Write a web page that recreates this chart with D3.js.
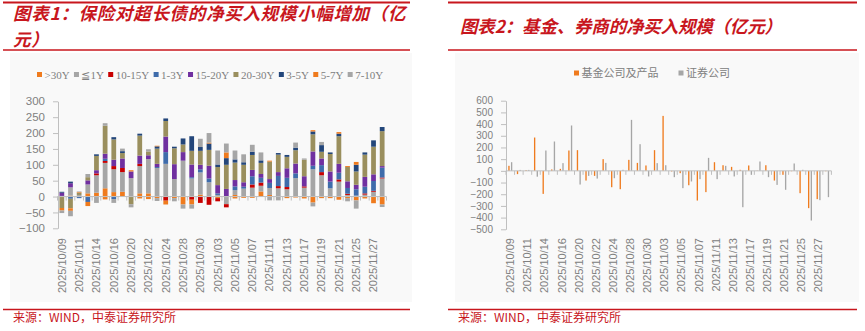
<!DOCTYPE html>
<html>
<head>
<meta charset="utf-8">
<script src="https://cdn.jsdelivr.net/npm/d3@7"></script>
<style>
  body { margin: 0; background: #fff; }
  svg { display: block; }
</style>
</head>
<body>
<svg id="c" width="865" height="331"></svg>
<script>
// ---- data ----
const dates = [
  "2025/10/09","2025/10/10","2025/10/11","2025/10/13","2025/10/14","2025/10/15","2025/10/16","2025/10/17",
  "2025/10/20","2025/10/21","2025/10/22","2025/10/23","2025/10/24","2025/10/27","2025/10/28","2025/10/29",
  "2025/10/30","2025/10/31","2025/11/03","2025/11/04","2025/11/05","2025/11/06","2025/11/07","2025/11/10",
  "2025/11/11","2025/11/12","2025/11/13","2025/11/14","2025/11/17","2025/11/18","2025/11/19","2025/11/20",
  "2025/11/21","2025/11/24","2025/11/25","2025/11/26","2025/11/27","2025/11/28"
];

// Insurance net purchases by maturity bucket (亿元)
const termKeys = [">30Y", "≦1Y", "10-15Y", "1-3Y", "15-20Y", "20-30Y", "3-5Y", "5-7Y", "7-10Y"];
const over30Y = [0,3,0,10,12,26,14,15,0,10,10,-5,0,-5,-25,0,6,0,-5,0,5,0,-4,16,5,0,-5,-3,-6,-19,-5,-5,-10,-5,-12,-6,-21,-25];
const upTo1Y  = [2,26,5,28,55,80,72,62,58,86,108,90,103,55,113,57,70,45,5,-24,15,25,28,18,22,26,23,58,28,86,67,26,47,5,3,6,15,57];
const y10to15 = [0,0,0,0,6,6,10,13,0,7,0,0,-13,0,0,-10,-20,-26,-10,-10,0,0,10,10,0,7,7,0,4,0,10,0,7,4,0,4,3,3];
const y1to3   = [0,-7,-5,-17,0,7,-8,0,0,0,0,3,37,0,0,4,10,12,5,0,12,6,26,15,16,32,29,15,0,11,22,21,21,18,20,21,31,31];
const y15to20 = [10,13,0,13,10,16,20,30,21,26,12,10,49,47,27,40,14,40,26,24,20,14,20,12,12,12,30,31,32,45,21,32,28,21,14,31,21,5];
const y20to30 = [-36,-30,7,10,45,88,64,17,-24,63,12,48,49,50,24,43,44,50,57,76,55,55,47,35,55,55,36,42,52,54,21,55,87,45,42,70,87,110];
const y3to5   = [3,5,0,0,5,0,7,6,0,6,0,7,8,5,19,46,12,20,8,21,10,8,10,8,0,5,6,8,0,9,21,5,8,0,21,7,20,13];
const y5to7   = [-8,-8,2,-13,0,-9,0,0,4,-6,-8,2,-12,0,0,-15,0,3,0,18,-6,-4,0,0,3,0,0,0,0,4,0,0,5,3,9,0,0,0];
const y7to10  = [-8,-17,2,10,-20,8,-12,8,-10,0,7,-9,0,-10,-13,-13,26,30,44,28,28,25,22,25,-12,-12,0,16,4,-12,10,0,0,-10,-26,0,0,-8];
const termSeries = [over30Y, upTo1Y, y10to15, y1to3, y15to20, y20to30, y3to5, y5to7, y7to10];
const termColors = ["#EF7B1E","#A6A6A6","#C80000","#3F6CAB","#7030A0","#9A8F5E","#23467A","#EF7B1E","#A6A6A6"];
const termTicks = [-100, -50, 0, 50, 100, 150, 200, 250, 300];

// Fund companies & products vs. securities firms (亿元)
const flowKeys = ["基金公司及产品", "证券公司"];
const fundFlow   = [43,-28,6,285,-197,12,17,174,177,-83,-43,100,-140,-157,94,68,46,177,470,-5,-20,-123,-254,-182,74,48,34,9,46,2,48,-83,-34,-3,-191,-319,-242,-3];
const brokerFlow = [74,8,8,-50,174,251,66,388,-117,-43,-66,68,-63,9,436,228,-48,66,48,-54,-148,-91,-71,111,-71,43,-48,-311,-34,80,-54,-120,-162,63,9,-425,-251,-225];
const flowColors = ["#EF7B1E", "#A6A6A6"];
const flowTicks = [-500,-400,-300,-200,-100,0,100,200,300,400,500,600];

// ---- shared styles ----
const RED = "#C8161D";
const AXIS = "#BFBFBF";
const TXT = "#808080";
const CJK = "'Noto Sans CJK SC', sans-serif";
const SANS = "'Liberation Sans', Arial, sans-serif";
const SERIF = "'Liberation Serif', 'Times New Roman', serif";

const svg = d3.select("#c");

// ---- frame: rules, titles, sources ----
function frame(x0, x1, title, srcX) {
  svg.append("rect").attr("x", x0 + 7).attr("y", 53).attr("width", x1 - x0 - 5).attr("height", 249).attr("fill", "#F9F9F9");
  svg.append("line").attr("x1", x0).attr("x2", x1).attr("y1", 2.5).attr("y2", 2.5).attr("stroke", RED).attr("stroke-width", 2);
  svg.append("line").attr("x1", x0).attr("x2", x1).attr("y1", 50).attr("y2", 50).attr("stroke", RED).attr("stroke-width", 1.5);
  svg.append("line").attr("x1", x0).attr("x2", x1).attr("y1", 309.5).attr("y2", 309.5).attr("stroke", RED).attr("stroke-width", 1.5);

  // title lines
  const gap = title.lineGap || 0;
  title.lines.forEach((line, i) => {
    const t = svg.append("text").attr("x", title.x).attr("y", title.y + i * gap)
      .attr("font-family", CJK).attr("font-size", 17.5).attr("font-weight", 700)
      .attr("font-style", "italic").attr("fill", RED)
      .attr("letter-spacing", title.spacing || 0).text(line);
    if (title.len) t.attr("textLength", title.len).attr("lengthAdjust", "spacing");
  });

  svg.append("text").attr("x", srcX).attr("y", 322)
    .attr("font-family", CJK).attr("font-size", 12).attr("fill", RED)
    .text("来源：WIND，中泰证券研究所");
}

frame(3, 410, {
  lines: ["图表1：保险对超长债的净买入规模小幅增加（亿", "元）"],
  x: 13, y: 20, lineGap: 25.5, spacing: 0.7
}, 13);
frame(448, 857, {
  lines: ["图表2：基金、券商的净买入规模（亿元）"],
  x: 460, y: 33, len: 322
}, 458);

// ---- helpers ----
function categoryAxis(g, x, yZero, labelY) {
  const [r0, r1] = x.range();
  g.append("line").attr("x1", r0).attr("x2", r1).attr("y1", yZero).attr("y2", yZero)
    .attr("stroke", AXIS).attr("stroke-width", 1);
  const half = x.step() * x.paddingInner() / 2;
  const bounds = dates.map(d => x(d) - half).concat([r1]);
  g.selectAll(".ctick").data(bounds).join("line")
    .attr("x1", d => d).attr("x2", d => d).attr("y1", yZero).attr("y2", yZero + 4)
    .attr("stroke", AXIS);
  g.selectAll(".clab").data(dates.filter((d, i) => i % 2 === 0)).join("text")
    .attr("transform", d => `translate(${x(d) + x.bandwidth() / 2},${labelY}) rotate(-90)`)
    .attr("text-anchor", "end").attr("dy", "0.35em")
    .attr("font-family", SANS).attr("font-size", 11).attr("fill", TXT)
    .text(d => d);
}

function valueAxis(g, y, xPos, ticks, size) {
  const ax = g.append("g").attr("transform", `translate(${xPos},0)`)
    .call(d3.axisLeft(y).tickValues(ticks).tickSize(5).tickSizeOuter(0).tickPadding(8));
  ax.select(".domain").attr("stroke", AXIS);
  ax.selectAll(".tick line").attr("stroke", AXIS);
  ax.selectAll(".tick text").attr("font-family", SANS).attr("font-size", size).attr("fill", TXT);
}

function legend(items, x0, yMid, font, size, gap) {
  let cx = x0;
  items.forEach(it => {
    svg.append("rect").attr("x", cx).attr("y", yMid - 2.5).attr("width", 5).attr("height", 5).attr("fill", it.color);
    const t = svg.append("text").attr("x", cx + 7.5).attr("y", yMid + 4)
      .attr("font-family", font).attr("font-size", size).attr("fill", TXT).text(it.name);
    cx += 7.5 + t.node().getComputedTextLength() + gap;
  });
}

// ---- chart 1: stacked columns by maturity ----
{
  const rows = dates.map((d, i) => {
    const r = { date: d };
    termKeys.forEach((k, j) => r[k] = termSeries[j][i]);
    return r;
  });
  const x = d3.scaleBand().domain(dates).range([57.5, 386.5]).paddingInner(0.45).paddingOuter(0.225);
  const y = d3.scaleLinear().domain([-100, 300]).range([228.3, 101.3]);
  const stacked = d3.stack().keys(termKeys).offset(d3.stackOffsetDiverging)(rows);

  const g = svg.append("g");
  g.selectAll(".layer").data(stacked).join("g")
    .attr("fill", (s, i) => termColors[i])
    .selectAll("rect").data(s => s).join("rect")
    .attr("x", d => x(d.data.date))
    .attr("width", x.bandwidth())
    .attr("y", d => y(Math.max(d[0], d[1])))
    .attr("height", d => Math.abs(y(d[0]) - y(d[1])));

  categoryAxis(g, x, y(0), 238);
  valueAxis(g, y, 58, termTicks, 11.5);
  legend(termKeys.map((k, i) => ({ name: k, color: termColors[i] })), 37, 74.5, SERIF, 11, 4.3);
}

// ---- chart 2: clustered columns, funds vs brokers ----
{
  const x = d3.scaleBand().domain(dates).range([506, 831.4]).paddingInner(0.5).paddingOuter(0.25);
  const y = d3.scaleLinear().domain([-500, 600]).range([229.3, 100.7]);
  const x1 = d3.scaleBand().domain(flowKeys).range([-2, 2]).paddingInner(0.5);
  const series = [fundFlow, brokerFlow];

  const g = svg.append("g");
  flowKeys.forEach((k, j) => {
    g.append("g").attr("fill", flowColors[j])
      .selectAll("rect").data(dates.map((d, i) => ({ date: d, v: series[j][i] }))).join("rect")
      .attr("x", d => x(d.date) + x.bandwidth() / 2 + x1(k))
      .attr("width", x1.bandwidth())
      .attr("y", d => y(Math.max(0, d.v)))
      .attr("height", d => Math.abs(y(d.v) - y(0)));
  });

  categoryAxis(g, x, y(0), 238);
  valueAxis(g, y, 506, flowTicks, 10);
  legend(flowKeys.map((k, i) => ({ name: k, color: flowColors[i] })), 574, 73, CJK, 11, 20);
}
</script>
</body>
</html>
